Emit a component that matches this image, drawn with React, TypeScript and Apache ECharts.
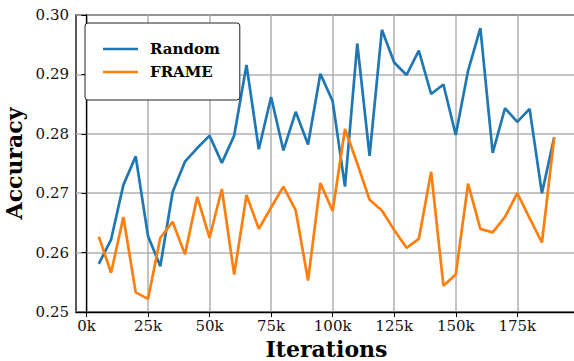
import React, { useEffect, useRef } from "react";
import * as echarts from "echarts";

// Training iterations (in thousands) at which accuracy was evaluated
const iterations = [
  5, 10, 15, 20, 25, 30, 35, 40, 45, 50, 55, 60, 65, 70, 75, 80, 85, 90, 95,
  100, 105, 110, 115, 120, 125, 130, 135, 140, 145, 150, 155, 160, 165, 170,
  175, 180, 185, 190,
];

const randomAcc = [
  0.2581, 0.2622, 0.2714, 0.2762, 0.2628, 0.2577, 0.2702, 0.2753, 0.2776,
  0.2797, 0.2751, 0.2797, 0.2916, 0.2774, 0.2862, 0.2772, 0.2837, 0.2782,
  0.2901, 0.2855, 0.2711, 0.2952, 0.2763, 0.2975, 0.292, 0.2899, 0.294,
  0.2867, 0.2883, 0.2798, 0.2906, 0.2978, 0.2768, 0.2843, 0.282, 0.2842,
  0.27, 0.2794,
];

const frameAcc = [
  0.2627, 0.2566, 0.266, 0.2533, 0.2522, 0.2625, 0.2652, 0.2597, 0.2694,
  0.2625, 0.2707, 0.2563, 0.2697, 0.264, 0.2676, 0.2711, 0.2671, 0.2553,
  0.2717, 0.267, 0.2808, 0.275, 0.2689, 0.2671, 0.2638, 0.2608, 0.2623,
  0.2736, 0.2544, 0.2563, 0.2716, 0.264, 0.2634, 0.266, 0.27, 0.2658, 0.2617,
  0.2794,
];

const xTicks = [0, 25, 50, 75, 100, 125, 150, 175];
const yTicks = [0.25, 0.26, 0.27, 0.28, 0.29, 0.3];

const FONT = "DejaVu Serif";

export default function App() {
  const ref = useRef<HTMLDivElement>(null);

  useEffect(() => {
    if (!ref.current) return;
    const chart = echarts.init(ref.current, undefined, { renderer: "svg" });

    const pairs = (ys: number[]) => iterations.map((x, i) => [x, ys[i]]);

    chart.setOption({
      animation: false,
      backgroundColor: "#ffffff",
      grid: {
        left: 76,
        right: -3,
        top: 15,
        bottom: 49,
        outerBoundsMode: "none",
        containLabel: false,
        show: true,
        borderColor: "#000",
        borderWidth: 1.3,
        backgroundColor: "transparent",
      },
      legend: {
        left: 85,
        top: 23,
        orient: "vertical",
        icon: "rect",
        itemWidth: 35,
        itemHeight: 2.5,
        itemGap: 5,
        padding: [17, 20, 19, 18],
        backgroundColor: "#fff",
        borderColor: "#222",
        borderWidth: 1,
        borderRadius: 3,
        textStyle: {
          fontFamily: FONT,
          fontWeight: "bold",
          fontSize: 15,
          color: "#000",
          lineHeight: 18,
          padding: [0, 0, 0, 7],
        },
        data: ["Random", "FRAME"],
      },
      xAxis: {
        type: "value",
        min: -4.25,
        max: 199.25,
        minInterval: 25,
        maxInterval: 25,
        name: "Iterations",
        nameLocation: "middle",
        nameGap: 23,
        nameTextStyle: {
          fontFamily: FONT,
          fontWeight: "bold",
          fontSize: 22,
          color: "#000",
        },
        axisLine: { show: true, lineStyle: { color: "#000", width: 1.3 } },
        axisTick: {
          show: true,
          length: 5,
          customValues: xTicks,
          lineStyle: { color: "#000", width: 1 },
        },
        axisLabel: {
          customValues: xTicks,
          formatter: (v: number) => `${v}k`,
          fontFamily: FONT,
          fontSize: 15,
          color: "#111",
          margin: 6,
        },
        splitLine: {
          show: true,
          lineStyle: { color: "#b0b0b0", width: 1.5 },
        },
      },
      yAxis: {
        type: "value",
        min: 0.25,
        max: 0.3,
        interval: 0.01,
        name: "Accuracy",
        nameLocation: "middle",
        nameRotate: 90,
        nameGap: 48,
        nameTextStyle: {
          fontFamily: FONT,
          fontWeight: "bold",
          fontSize: 22,
          color: "#000",
        },
        axisLine: { show: true, lineStyle: { color: "#000", width: 1.3 } },
        axisTick: {
          show: true,
          length: 5,
          customValues: yTicks,
          lineStyle: { color: "#000", width: 1 },
        },
        axisLabel: {
          customValues: yTicks,
          formatter: (v: number) => v.toFixed(2),
          fontFamily: FONT,
          fontSize: 15,
          color: "#111",
          margin: 7,
        },
        splitLine: {
          show: true,
          lineStyle: { color: "#b0b0b0", width: 1.5 },
        },
      },
      series: [
        {
          name: "Random",
          type: "line",
          data: pairs(randomAcc),
          symbol: "none",
          color: "#1f77b4",
          lineStyle: { width: 2.7, color: "#1f77b4" },
        },
        {
          name: "FRAME",
          type: "line",
          data: pairs(frameAcc),
          symbol: "none",
          color: "#ff7f0e",
          lineStyle: { width: 2.7, color: "#ff7f0e" },
        },
      ],
    });

    return () => chart.dispose();
  }, []);

  return (
    <div
      ref={ref}
      style={{ position: "fixed", left: 0, top: 0, width: 574, height: 361 }}
    />
  );
}
